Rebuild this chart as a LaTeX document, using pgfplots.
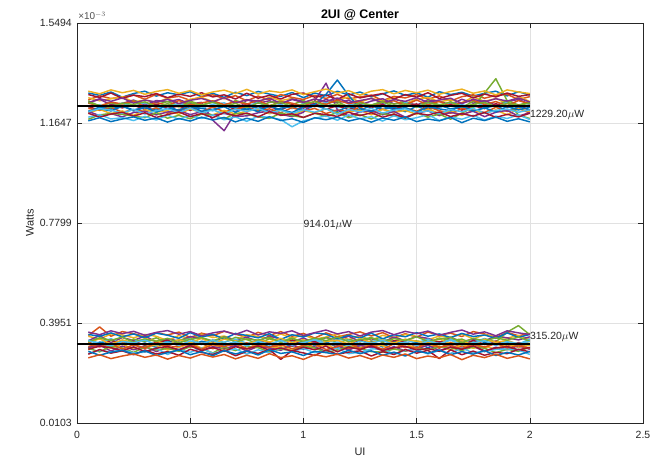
\documentclass[border=0pt]{standalone}
\usepackage{fontspec}
\setmainfont{Liberation Sans}
\usepackage{pgfplots}
\usepackage{pgfplotstable}
\pgfplotsset{compat=1.18}
\definecolor{mc1}{RGB}{0,114,189}
\definecolor{mc2}{RGB}{217,83,25}
\definecolor{mc3}{RGB}{237,177,32}
\definecolor{mc4}{RGB}{126,47,142}
\definecolor{mc5}{RGB}{119,172,48}
\definecolor{mc6}{RGB}{77,190,238}
\definecolor{mc7}{RGB}{162,20,47}
\definecolor{axc}{RGB}{38,38,38}
\definecolor{gridc}{RGB}{225,225,225}
\pgfplotscreateplotcyclelist{matlab}{{mc1},{mc2},{mc3},{mc4},{mc5},{mc6},{mc7}}

\pgfplotstableread{
x t1 t2 t3 t4 t5 t6 t7 t8 t9 t10 t11 t12 t13 t14 t15 t16
0.05 1.280 1.254 1.262 1.242 1.250 1.226 1.228 1.209 1.221 1.203 1.209 1.179 1.187 1.274 1.209 1.241
0.10 1.271 1.269 1.250 1.256 1.229 1.235 1.214 1.226 1.213 1.217 1.193 1.196 1.197 1.263 1.220 1.230
0.15 1.284 1.259 1.258 1.235 1.242 1.219 1.234 1.218 1.225 1.201 1.201 1.201 1.180 1.280 1.211 1.245
0.20 1.264 1.264 1.265 1.240 1.231 1.241 1.223 1.230 1.206 1.211 1.188 1.198 1.185 1.259 1.229 1.238
0.25 1.278 1.272 1.246 1.253 1.250 1.228 1.233 1.211 1.216 1.194 1.205 1.191 1.174 1.272 1.215 1.249
0.30 1.287 1.256 1.253 1.233 1.241 1.243 1.217 1.224 1.209 1.215 1.210 1.185 1.190 1.266 1.225 1.227
0.35 1.268 1.275 1.243 1.251 1.236 1.224 1.237 1.214 1.223 1.206 1.196 1.204 1.176 1.278 1.207 1.244
0.40 1.281 1.261 1.260 1.247 1.247 1.229 1.221 1.233 1.202 1.212 1.207 1.183 1.195 1.262 1.221 1.232
0.45 1.273 1.267 1.239 1.255 1.232 1.239 1.230 1.210 1.217 1.198 1.212 1.194 1.179 1.276 1.214 1.251
0.50 1.285 1.252 1.256 1.238 1.249 1.233 1.213 1.225 1.222 1.219 1.197 1.181 1.193 1.267 1.231 1.234
0.55 1.266 1.266 1.263 1.244 1.234 1.221 1.232 1.221 1.207 1.204 1.208 1.199 1.182 1.281 1.210 1.242
0.60 1.279 1.273 1.247 1.175 1.245 1.237 1.225 1.212 1.226 1.196 1.194 1.195 1.196 1.265 1.217 1.250
0.65 1.263 1.258 1.261 1.135 1.228 1.242 1.235 1.231 1.208 1.213 1.202 1.180 1.177 1.273 1.227 1.235
0.70 1.283 1.270 1.241 1.205 1.251 1.225 1.216 1.223 1.218 1.199 1.190 1.202 1.188 1.257 1.206 1.247
0.75 1.270 1.250 1.255 1.254 1.239 1.230 1.238 1.216 1.227 1.210 1.192 1.200 1.171 1.279 1.223 1.237
0.80 1.286 1.268 1.244 1.241 1.227 1.244 1.220 1.229 1.211 1.218 1.204 1.188 1.191 1.260 1.208 1.252
0.85 1.276 1.253 1.264 1.250 1.244 1.225 1.227 1.207 1.219 1.200 1.211 1.182 1.186 1.271 1.230 1.231
0.90 1.267 1.274 1.251 1.236 1.248 1.236 1.215 1.222 1.204 1.216 1.198 1.203 1.178 1.257 1.216 1.246
0.95 1.282 1.263 1.259 1.257 1.235 1.220 1.235 1.227 1.224 1.195 1.189 1.193 1.150 1.275 1.205 1.241
1.00 1.262 1.255 1.240 1.248 1.251 1.240 1.222 1.213 1.210 1.212 1.206 1.186 1.173 1.280 1.226 1.229
1.05 1.280 1.271 1.257 1.239 1.230 1.227 1.239 1.232 1.221 1.203 1.250 1.202 1.183 1.264 1.236 1.248
1.10 1.269 1.259 1.243 1.255 1.242 1.245 1.218 1.219 1.201 1.220 1.318 1.190 1.192 1.273 1.275 1.236
1.15 1.287 1.275 1.253 1.243 1.247 1.223 1.231 1.210 1.215 1.199 1.215 1.205 1.175 1.255 1.330 1.253
1.20 1.272 1.257 1.265 1.252 1.226 1.234 1.216 1.228 1.208 1.208 1.191 1.185 1.196 1.277 1.270 1.239
1.25 1.284 1.265 1.245 1.234 1.240 1.242 1.233 1.215 1.226 1.214 1.207 1.197 1.181 1.261 1.221 1.247
1.30 1.265 1.272 1.260 1.249 1.233 1.226 1.224 1.231 1.205 1.196 1.212 1.180 1.189 1.270 1.209 1.228
1.35 1.277 1.251 1.249 1.258 1.249 1.239 1.236 1.217 1.218 1.217 1.196 1.201 1.172 1.278 1.229 1.244
1.40 1.288 1.267 1.262 1.238 1.237 1.219 1.219 1.225 1.203 1.205 1.209 1.193 1.193 1.257 1.216 1.250
1.45 1.271 1.261 1.240 1.246 1.246 1.243 1.230 1.208 1.223 1.213 1.187 1.183 1.177 1.274 1.224 1.233
1.50 1.281 1.274 1.256 1.233 1.228 1.231 1.238 1.229 1.210 1.198 1.203 1.204 1.185 1.264 1.206 1.253
1.55 1.264 1.256 1.263 1.253 1.250 1.238 1.218 1.214 1.227 1.218 1.211 1.187 1.197 1.281 1.227 1.235
1.60 1.285 1.269 1.246 1.248 1.235 1.222 1.227 1.233 1.212 1.202 1.193 1.199 1.174 1.259 1.219 1.248
1.65 1.274 1.249 1.254 1.235 1.243 1.244 1.237 1.219 1.202 1.211 1.205 1.179 1.188 1.271 1.212 1.230
1.70 1.283 1.266 1.242 1.256 1.225 1.235 1.214 1.227 1.220 1.194 1.198 1.203 1.179 1.279 1.231 1.243
1.75 1.268 1.273 1.265 1.241 1.248 1.224 1.231 1.209 1.216 1.214 1.210 1.225 1.194 1.261 1.211 1.252
1.80 1.279 1.260 1.248 1.251 1.241 1.241 1.220 1.223 1.205 1.201 1.189 1.280 1.176 1.276 1.223 1.236
1.85 1.287 1.271 1.259 1.233 1.229 1.229 1.239 1.231 1.225 1.215 1.206 1.335 1.191 1.265 1.207 1.247
1.90 1.269 1.275 1.239 1.247 1.251 1.244 1.224 1.212 1.209 1.196 1.213 1.250 1.182 1.280 1.228 1.231
1.95 1.285 1.255 1.267 1.255 1.234 1.221 1.235 1.226 1.221 1.219 1.191 1.195 1.196 1.267 1.215 1.251
2.00 1.272 1.266 1.247 1.237 1.245 1.236 1.213 1.216 1.203 1.209 1.205 1.182 1.178 1.274 1.225 1.238
}\bandup

\pgfplotstableread{
x s1 s2 s3 s4 s5 s6
0.05 1.287 1.243 1.244 1.208 1.202 1.173
0.10 1.277 1.258 1.232 1.220 1.187 1.185
0.15 1.292 1.248 1.225 1.214 1.199 1.170
0.20 1.281 1.261 1.241 1.202 1.206 1.180
0.25 1.290 1.241 1.236 1.217 1.191 1.188
0.30 1.275 1.253 1.246 1.199 1.204 1.175
0.35 1.286 1.245 1.228 1.212 1.186 1.184
0.40 1.293 1.256 1.239 1.219 1.197 1.168
0.45 1.279 1.239 1.226 1.205 1.207 1.182
0.50 1.289 1.252 1.243 1.222 1.189 1.172
0.55 1.273 1.259 1.233 1.203 1.201 1.187
0.60 1.284 1.246 1.245 1.215 1.185 1.176
0.65 1.291 1.262 1.229 1.200 1.205 1.186
0.70 1.278 1.242 1.240 1.218 1.192 1.169
0.75 1.294 1.254 1.224 1.209 1.203 1.183
0.80 1.276 1.249 1.242 1.221 1.188 1.171
0.85 1.288 1.260 1.231 1.204 1.208 1.189
0.90 1.282 1.240 1.244 1.213 1.194 1.174
0.95 1.292 1.255 1.227 1.201 1.200 1.181
1.00 1.274 1.244 1.237 1.216 1.186 1.167
1.05 1.285 1.257 1.247 1.206 1.202 1.185
1.10 1.295 1.247 1.230 1.220 1.197 1.177
1.15 1.280 1.261 1.238 1.198 1.190 1.187
1.20 1.289 1.243 1.226 1.217 1.206 1.172
1.25 1.272 1.251 1.242 1.207 1.193 1.182
1.30 1.287 1.259 1.234 1.221 1.204 1.168
1.35 1.293 1.241 1.245 1.203 1.187 1.184
1.40 1.277 1.255 1.229 1.214 1.199 1.175
1.45 1.290 1.248 1.239 1.219 1.184 1.188
1.50 1.281 1.262 1.225 1.205 1.203 1.170
1.55 1.291 1.244 1.243 1.211 1.195 1.180
1.60 1.275 1.253 1.232 1.200 1.207 1.173
1.65 1.286 1.260 1.246 1.216 1.189 1.186
1.70 1.295 1.239 1.228 1.208 1.201 1.166
1.75 1.279 1.256 1.236 1.221 1.191 1.183
1.80 1.288 1.246 1.244 1.202 1.205 1.174
1.85 1.273 1.258 1.227 1.213 1.186 1.187
1.90 1.292 1.249 1.240 1.218 1.198 1.171
1.95 1.284 1.261 1.233 1.206 1.188 1.181
2.00 1.278 1.245 1.241 1.215 1.202 1.169
}\bandupB

\pgfplotstableread{
x t1 t2 t3 t4 t5 t6 t7 t8 t9 t10 t11 t12 t13 t14 t15 t16
0.05 0.347 0.344 0.327 0.319 0.329 0.321 0.300 0.304 0.292 0.300 0.298 0.277 0.275 0.351 0.313 0.321
0.10 0.380 0.333 0.347 0.337 0.318 0.306 0.322 0.314 0.310 0.310 0.284 0.290 0.293 0.344 0.303 0.334
0.15 0.344 0.353 0.319 0.329 0.335 0.329 0.311 0.300 0.298 0.287 0.306 0.283 0.279 0.357 0.316 0.314
0.20 0.362 0.349 0.339 0.315 0.313 0.314 0.326 0.319 0.314 0.306 0.299 0.292 0.288 0.342 0.295 0.330
0.25 0.354 0.338 0.328 0.333 0.325 0.326 0.307 0.311 0.294 0.292 0.282 0.280 0.273 0.353 0.311 0.319
0.30 0.343 0.351 0.345 0.323 0.332 0.309 0.318 0.297 0.305 0.305 0.303 0.283 0.291 0.338 0.299 0.335
0.35 0.358 0.344 0.322 0.338 0.309 0.320 0.301 0.315 0.309 0.285 0.291 0.298 0.276 0.356 0.319 0.326
0.40 0.349 0.327 0.334 0.317 0.327 0.329 0.324 0.307 0.291 0.302 0.298 0.274 0.285 0.348 0.300 0.313
0.45 0.360 0.347 0.326 0.330 0.319 0.307 0.314 0.321 0.301 0.293 0.286 0.294 0.271 0.336 0.307 0.331
0.50 0.339 0.334 0.343 0.335 0.334 0.323 0.305 0.302 0.316 0.309 0.304 0.282 0.294 0.358 0.315 0.318
0.55 0.356 0.352 0.336 0.315 0.312 0.316 0.325 0.317 0.299 0.289 0.296 0.299 0.282 0.341 0.294 0.336
0.60 0.346 0.339 0.320 0.328 0.330 0.328 0.317 0.296 0.312 0.304 0.280 0.278 0.274 0.351 0.312 0.316
0.65 0.363 0.345 0.342 0.320 0.321 0.304 0.306 0.313 0.292 0.296 0.302 0.288 0.290 0.334 0.304 0.333
0.70 0.352 0.329 0.329 0.340 0.333 0.324 0.323 0.305 0.307 0.308 0.289 0.296 0.269 0.355 0.317 0.327
0.75 0.340 0.350 0.340 0.331 0.317 0.311 0.311 0.319 0.294 0.287 0.305 0.275 0.286 0.347 0.297 0.311
0.80 0.359 0.343 0.325 0.316 0.324 0.327 0.320 0.303 0.315 0.305 0.300 0.292 0.278 0.338 0.309 0.330
0.85 0.347 0.335 0.345 0.334 0.310 0.319 0.303 0.316 0.297 0.299 0.284 0.280 0.293 0.354 0.302 0.322
0.90 0.362 0.353 0.333 0.325 0.331 0.308 0.318 0.298 0.304 0.290 0.295 0.300 0.255 0.332 0.312 0.336
0.95 0.344 0.337 0.323 0.337 0.326 0.330 0.305 0.307 0.290 0.311 0.288 0.285 0.289 0.350 0.296 0.319
1.00 0.355 0.349 0.337 0.321 0.314 0.312 0.326 0.320 0.310 0.294 0.306 0.297 0.280 0.341 0.309 0.331
1.05 0.337 0.333 0.320 0.330 0.335 0.325 0.309 0.301 0.299 0.303 0.299 0.281 0.270 0.357 0.314 0.312
1.10 0.357 0.341 0.339 0.339 0.319 0.305 0.322 0.315 0.313 0.286 0.282 0.288 0.291 0.352 0.293 0.324
1.15 0.342 0.352 0.331 0.318 0.332 0.321 0.302 0.310 0.293 0.307 0.291 0.298 0.275 0.334 0.304 0.329
1.20 0.351 0.331 0.344 0.332 0.328 0.310 0.314 0.295 0.308 0.291 0.304 0.277 0.283 0.348 0.318 0.314
1.25 0.361 0.346 0.324 0.323 0.311 0.329 0.307 0.317 0.300 0.309 0.297 0.283 0.288 0.337 0.296 0.335
1.30 0.345 0.328 0.335 0.336 0.323 0.315 0.325 0.304 0.316 0.301 0.285 0.295 0.268 0.356 0.311 0.320
1.35 0.358 0.348 0.321 0.332 0.335 0.310 0.303 0.311 0.307 0.290 0.283 0.297 0.285 0.334 0.294 0.330
1.40 0.338 0.336 0.341 0.324 0.312 0.327 0.322 0.319 0.297 0.304 0.295 0.275 0.274 0.350 0.315 0.318
1.45 0.354 0.351 0.327 0.329 0.329 0.322 0.312 0.300 0.315 0.287 0.287 0.290 0.293 0.342 0.305 0.333
1.50 0.341 0.344 0.343 0.326 0.318 0.306 0.319 0.309 0.296 0.295 0.301 0.294 0.279 0.358 0.298 0.325
1.55 0.360 0.330 0.336 0.320 0.333 0.318 0.300 0.313 0.311 0.310 0.290 0.276 0.290 0.344 0.319 0.317
1.60 0.348 0.345 0.319 0.337 0.316 0.324 0.317 0.298 0.306 0.289 0.305 0.289 0.258 0.353 0.302 0.334
1.65 0.356 0.339 0.340 0.329 0.331 0.314 0.308 0.321 0.291 0.303 0.300 0.278 0.292 0.339 0.309 0.315
1.70 0.343 0.353 0.323 0.333 0.320 0.309 0.324 0.302 0.312 0.297 0.289 0.299 0.273 0.355 0.295 0.327
1.75 0.362 0.334 0.333 0.315 0.325 0.328 0.304 0.312 0.298 0.306 0.303 0.280 0.287 0.343 0.313 0.310
1.80 0.353 0.350 0.326 0.335 0.334 0.313 0.320 0.299 0.305 0.285 0.298 0.286 0.271 0.349 0.303 0.332
1.85 0.339 0.342 0.345 0.322 0.315 0.326 0.310 0.318 0.295 0.302 0.281 0.293 0.282 0.336 0.317 0.321
1.90 0.359 0.337 0.338 0.360 0.326 0.304 0.321 0.306 0.314 0.292 0.294 0.296 0.277 0.357 0.299 0.328
1.95 0.346 0.347 0.330 0.385 0.313 0.320 0.301 0.314 0.302 0.308 0.286 0.291 0.294 0.340 0.308 0.313
2.00 0.355 0.332 0.342 0.350 0.334 0.311 0.315 0.297 0.310 0.294 0.302 0.274 0.284 0.351 0.297 0.324
}\bandlow

\pgfplotstableread{
x s1 s2 s3 s4 s5 s6
0.05 0.360 0.323 0.327 0.294 0.286 0.261
0.10 0.350 0.338 0.315 0.306 0.271 0.273
0.15 0.365 0.328 0.308 0.300 0.283 0.258
0.20 0.354 0.341 0.324 0.288 0.290 0.268
0.25 0.363 0.321 0.319 0.303 0.275 0.276
0.30 0.348 0.333 0.329 0.285 0.288 0.263
0.35 0.359 0.325 0.311 0.298 0.270 0.272
0.40 0.366 0.336 0.322 0.305 0.281 0.256
0.45 0.352 0.319 0.309 0.291 0.291 0.270
0.50 0.362 0.332 0.326 0.308 0.273 0.260
0.55 0.346 0.339 0.316 0.289 0.285 0.275
0.60 0.357 0.326 0.328 0.301 0.269 0.264
0.65 0.364 0.342 0.312 0.286 0.289 0.274
0.70 0.351 0.322 0.323 0.304 0.276 0.257
0.75 0.367 0.334 0.307 0.295 0.287 0.271
0.80 0.349 0.329 0.325 0.307 0.272 0.259
0.85 0.361 0.340 0.314 0.290 0.292 0.277
0.90 0.355 0.320 0.327 0.299 0.278 0.262
0.95 0.365 0.335 0.310 0.287 0.284 0.269
1.00 0.347 0.324 0.320 0.302 0.270 0.255
1.05 0.358 0.337 0.330 0.292 0.286 0.273
1.10 0.368 0.327 0.313 0.306 0.281 0.265
1.15 0.353 0.341 0.321 0.284 0.274 0.275
1.20 0.362 0.323 0.309 0.303 0.290 0.260
1.25 0.345 0.331 0.325 0.293 0.277 0.270
1.30 0.360 0.339 0.317 0.307 0.288 0.256
1.35 0.366 0.321 0.328 0.289 0.271 0.272
1.40 0.350 0.335 0.312 0.300 0.283 0.263
1.45 0.363 0.328 0.322 0.305 0.268 0.276
1.50 0.354 0.342 0.308 0.291 0.287 0.258
1.55 0.364 0.324 0.326 0.297 0.279 0.268
1.60 0.348 0.333 0.315 0.286 0.291 0.261
1.65 0.359 0.340 0.329 0.302 0.273 0.274
1.70 0.368 0.319 0.311 0.294 0.285 0.254
1.75 0.352 0.336 0.319 0.307 0.275 0.271
1.80 0.361 0.326 0.327 0.288 0.289 0.262
1.85 0.346 0.338 0.310 0.299 0.270 0.275
1.90 0.365 0.329 0.323 0.304 0.282 0.259
1.95 0.357 0.341 0.316 0.292 0.272 0.269
2.00 0.351 0.325 0.324 0.301 0.286 0.257
}\bandlowB

\begin{document}
\begin{tikzpicture}
\path[use as bounding box] (-77bp,-36bp) rectangle (579bp,423bp);
\begin{axis}[
  scale only axis, width=566bp, height=400bp,
  xmin=0, xmax=2.5, ymin=0.0103, ymax=1.5494,
  xtick={0,0.5,1,1.5,2,2.5}, xticklabels={0,0.5,1,1.5,2,2.5},
  ytick={0.0103,0.3951,0.7799,1.1647,1.5494},
  yticklabels={0.0103,0.3951,0.7799,1.1647,1.5494},
  tick align=inside, xtick pos=both, ytick pos=both,
  major tick length=5bp,
  grid=major, grid style={color=gridc, line width=0.5bp},
  axis line style={color=axc, line width=0.6bp},
  tick style={color=axc, line width=0.5bp},
  ticklabel style={font=\fontsize{10.5}{12}\selectfont, text=axc},
  yticklabel style={anchor=east, inner sep=0pt, xshift=-5bp},
  xticklabel style={anchor=north, inner sep=0pt, yshift=-8bp},
  xlabel={UI}, ylabel={Watts},
  xlabel style={font=\fontsize{11}{13}\selectfont, text=axc, at={(axis description cs:0.5,-0.0725)}, anchor=center},
  ylabel style={font=\fontsize{11}{13}\selectfont, text=axc, at={(axis description cs:-0.083,0.5)}, anchor=center},
  title={\bfseries 2UI @ Center},
  every axis title shift=0pt,
  title style={font=\fontsize{12.5}{14}\selectfont, text=black, at={(axis description cs:0.5,1.02)}, anchor=center},
  cycle list name=matlab,
  every axis plot/.append style={line width=1.45bp, line join=round},
  clip=false,
]
\pgfplotsinvokeforeach{1,...,16}{\addplot table[x=x,y=t#1]{\bandup};}
\pgfplotsinvokeforeach{1,...,6}{\addplot table[x=x,y=s#1]{\bandupB};}
\pgfplotsinvokeforeach{1,...,16}{\addplot table[x=x,y=t#1]{\bandlow};}
\pgfplotsinvokeforeach{1,...,6}{\addplot table[x=x,y=s#1]{\bandlowB};}
\addplot[black, line width=2bp] coordinates {(0,1.2292) (2,1.2292)};
\addplot[black, line width=2bp] coordinates {(0,0.3152) (2,0.3152)};
\node[anchor=west, inner sep=0pt, font=\fontsize{10.5}{12}\selectfont, text=axc] at (axis cs:2,1.195) {1229.20$\mu$W};
\node[anchor=west, inner sep=0pt, font=\fontsize{10.5}{12}\selectfont, text=axc] at (axis cs:2,0.341) {315.20$\mu$W};
\node[anchor=west, inner sep=0pt, font=\fontsize{10.5}{12}\selectfont, text=axc] at (axis cs:1,0.7722) {914.01$\mu$W};
\node[anchor=base west, inner sep=0pt, font=\fontsize{10}{12}\selectfont, text=axc!80] at (axis description cs:0.002,1.0075) {×10$^{-3}$};
\end{axis}
\end{tikzpicture}
\end{document}
